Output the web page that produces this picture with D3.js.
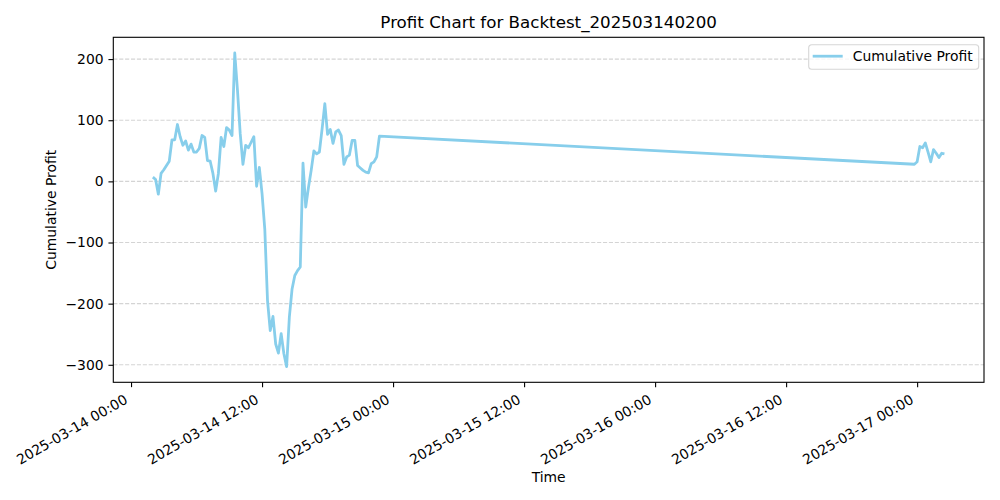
<!DOCTYPE html>
<html>
<head>
<meta charset="utf-8">
<script src="https://cdn.jsdelivr.net/npm/d3@7"></script>
<style>
  body { margin: 0; background: #fff; }
  text { font-family: "DejaVu Sans", sans-serif; }
</style>
</head>
<body>
<div id="chart"></div>
<script>
// trading sessions: friday run, then the monday restart (weekend gap in between)
const times = [
  "2025-03-14 02:00", "2025-03-14 02:15", "2025-03-14 02:30", "2025-03-14 02:45",
  "2025-03-14 03:00", "2025-03-14 03:15", "2025-03-14 03:30", "2025-03-14 03:45",
  "2025-03-14 04:00", "2025-03-14 04:15", "2025-03-14 04:30", "2025-03-14 04:45",
  "2025-03-14 05:00", "2025-03-14 05:15", "2025-03-14 05:30", "2025-03-14 05:45",
  "2025-03-14 06:00", "2025-03-14 06:15", "2025-03-14 06:30", "2025-03-14 06:45",
  "2025-03-14 07:00", "2025-03-14 07:15", "2025-03-14 07:30", "2025-03-14 07:45",
  "2025-03-14 08:00", "2025-03-14 08:15", "2025-03-14 08:30", "2025-03-14 08:45",
  "2025-03-14 09:00", "2025-03-14 09:15", "2025-03-14 09:30", "2025-03-14 09:45",
  "2025-03-14 10:00", "2025-03-14 10:15", "2025-03-14 10:30", "2025-03-14 10:45",
  "2025-03-14 11:00", "2025-03-14 11:15", "2025-03-14 11:30", "2025-03-14 11:45",
  "2025-03-14 12:00", "2025-03-14 12:15", "2025-03-14 12:30", "2025-03-14 12:45",
  "2025-03-14 13:00", "2025-03-14 13:15", "2025-03-14 13:30", "2025-03-14 13:45",
  "2025-03-14 14:00", "2025-03-14 14:15", "2025-03-14 14:30", "2025-03-14 14:45",
  "2025-03-14 15:00", "2025-03-14 15:15", "2025-03-14 15:30", "2025-03-14 15:45",
  "2025-03-14 16:00", "2025-03-14 16:15", "2025-03-14 16:30", "2025-03-14 16:45",
  "2025-03-14 17:00", "2025-03-14 17:15", "2025-03-14 17:30", "2025-03-14 17:45",
  "2025-03-14 18:00", "2025-03-14 18:15", "2025-03-14 18:30", "2025-03-14 18:45",
  "2025-03-14 19:00", "2025-03-14 19:15", "2025-03-14 19:30", "2025-03-14 19:45",
  "2025-03-14 20:00", "2025-03-14 20:15", "2025-03-14 20:30", "2025-03-14 20:45",
  "2025-03-14 21:00", "2025-03-14 21:15", "2025-03-14 21:30", "2025-03-14 21:45",
  "2025-03-14 22:00", "2025-03-14 22:15", "2025-03-14 22:30", "2025-03-14 22:45",
  "2025-03-16 23:45", "2025-03-17 00:00", "2025-03-17 00:15", "2025-03-17 00:30",
  "2025-03-17 00:45", "2025-03-17 01:00", "2025-03-17 01:15", "2025-03-17 01:30",
  "2025-03-17 01:45", "2025-03-17 02:00", "2025-03-17 02:15", "2025-03-17 02:30"
];

const profit = [
  7, 3, -21, 13, 19, 26, 33, 68,
  68, 93, 73, 59, 66, 51, 61, 48,
  48, 54, 75, 72, 34, 33, 13, -16,
  13, 72, 57, 88, 84, 75, 210, 149,
  78, 28, 59, 55, 64, 73, -8, 23,
  -20, -78, -195, -244, -221, -266, -281, -249,
  -282, -303, -222, -176, -154, -146, -140, 30,
  -42, -10, 18, 50, 45, 48, 86, 127,
  77, 85, 62, 81, 84, 75, 28, 40,
  43, 67, 67, 26, 22, 18, 15, 14,
  29, 32, 40, 74,
  28, 32, 57, 55, 63, 48, 32, 52,
  46, 39, 46, 45
];

const yTicks = [-300, -200, -100, 0, 100, 200];
const xTickLabels = [
  "2025-03-14 00:00", "2025-03-14 12:00", "2025-03-15 00:00", "2025-03-15 12:00",
  "2025-03-16 00:00", "2025-03-16 12:00", "2025-03-17 00:00"
];

const chartTitle = "Profit Chart for Backtest_202503140200";
const seriesName = "Cumulative Profit";

const width = 1000, height = 500;
const margin = { top: 37.3, right: 16, bottom: 117.7, left: 113.3 };
const innerW = width - margin.left - margin.right;
const innerH = height - margin.top - margin.bottom;

const parseTime = d3.utcParse("%Y-%m-%d %H:%M");
const fmtTime = d3.utcFormat("%Y-%m-%d %H:%M");

const data = times.map(function (t, i) {
  return { t: parseTime(t), v: profit[i] };
});

// 5% padding on both axes, like matplotlib's default margins
const tExt = d3.extent(data, d => d.t);
const tPad = (tExt[1] - tExt[0]) * 0.05;
const vExt = d3.extent(data, d => d.v);
const vPad = (vExt[1] - vExt[0]) * 0.05;

const x = d3.scaleUtc()
  .domain([new Date(+tExt[0] - tPad), new Date(+tExt[1] + tPad)])
  .range([0, innerW]);

const y = d3.scaleLinear()
  .domain([vExt[0] - vPad, vExt[1] + vPad])
  .range([innerH, 0]);

const svg = d3.select("#chart").append("svg")
  .attr("width", width)
  .attr("height", height);

const g = svg.append("g")
  .attr("transform", "translate(" + margin.left + "," + margin.top + ")");

// horizontal dashed grid
g.selectAll(".grid").data(yTicks).enter().append("line")
  .attr("x1", 0)
  .attr("x2", innerW)
  .attr("y1", d => y(d))
  .attr("y2", d => y(d))
  .attr("stroke", "#b0b0b0")
  .attr("stroke-opacity", 0.55)
  .attr("stroke-width", 1.1)
  .attr("stroke-dasharray", "4.1,1.8");

// the profit line
const line = d3.line()
  .x(d => x(d.t))
  .y(d => y(d.v));

g.append("path")
  .datum(data)
  .attr("fill", "none")
  .attr("stroke", "#87ceeb")
  .attr("stroke-width", 2.78)
  .attr("stroke-linejoin", "round")
  .attr("stroke-linecap", "butt")
  .attr("d", line);

// y axis
const yAxis = d3.axisLeft(y)
  .tickValues(yTicks)
  .tickSizeInner(4.86)
  .tickSizeOuter(0)
  .tickPadding(4.86)
  .tickFormat(d => d < 0 ? "\u2212" + Math.abs(d) : String(d));

const gy = g.append("g").call(yAxis);
gy.select(".domain").remove();
gy.selectAll("line").attr("stroke", "#000").attr("stroke-width", 1.1);
gy.selectAll("text")
  .attr("font-family", "DejaVu Sans, sans-serif")
  .attr("font-size", "13.9px")
  .attr("fill", "#000");

// x axis with rotated labels
const xAxis = d3.axisBottom(x)
  .tickValues(xTickLabels.map(parseTime))
  .tickSizeInner(4.86)
  .tickSizeOuter(0)
  .tickFormat(fmtTime);

const gx = g.append("g")
  .attr("transform", "translate(0," + innerH + ")")
  .call(xAxis);
gx.select(".domain").remove();
gx.selectAll("line").attr("stroke", "#000").attr("stroke-width", 1.1);
gx.selectAll("text")
  .attr("font-family", "DejaVu Sans, sans-serif")
  .attr("font-size", "13.9px")
  .attr("fill", "#000")
  .attr("text-anchor", "end")
  .attr("dy", null)
  .attr("y", 0)
  .attr("transform", "translate(-3,20) rotate(-30)");

// frame
g.append("rect")
  .attr("width", innerW)
  .attr("height", innerH)
  .attr("fill", "none")
  .attr("stroke", "#000")
  .attr("stroke-width", 1.1);

// title and axis labels
svg.append("text")
  .attr("x", margin.left + innerW / 2)
  .attr("y", 28)
  .attr("text-anchor", "middle")
  .attr("font-size", "16.7px")
  .text(chartTitle);

svg.append("text")
  .attr("x", margin.left + innerW / 2)
  .attr("y", 482)
  .attr("text-anchor", "middle")
  .attr("font-size", "13.9px")
  .text("Time");

svg.append("text")
  .attr("transform", "translate(56," + (margin.top + innerH / 2) + ") rotate(-90)")
  .attr("text-anchor", "middle")
  .attr("font-size", "13.9px")
  .text("Cumulative Profit");

// legend
const legend = svg.append("g")
  .attr("transform", "translate(808.7,44.7)");

legend.append("rect")
  .attr("width", 170)
  .attr("height", 24.6)
  .attr("rx", 3)
  .attr("fill", "#fff")
  .attr("fill-opacity", 0.8)
  .attr("stroke", "#cccccc")
  .attr("stroke-opacity", 0.8)
  .attr("stroke-width", 1.1);

legend.append("line")
  .attr("x1", 4)
  .attr("x2", 34)
  .attr("y1", 11.5)
  .attr("y2", 11.5)
  .attr("stroke", "#87ceeb")
  .attr("stroke-width", 2.78);

legend.append("text")
  .attr("x", 44)
  .attr("y", 16.4)
  .attr("font-size", "13.9px")
  .text(seriesName);
</script>
</body>
</html>
